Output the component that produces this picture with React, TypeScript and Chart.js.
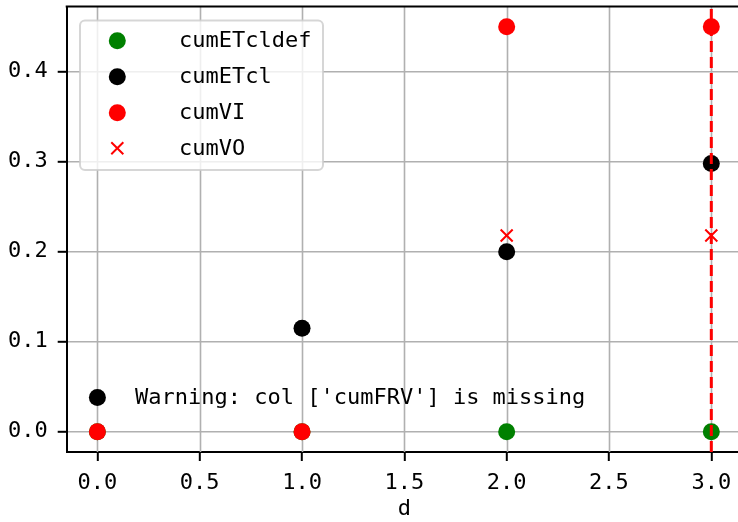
import { useEffect, useRef } from 'react';
import { Chart, registerables } from 'chart.js';

Chart.register(...registerables);

// ---- data ----
const days = [0, 1, 2, 3];
const cumETcldef = [0, 0, 0, 0];
const cumETcl = [0.038, 0.115, 0.2, 0.298];
const cumVI = [0, 0, 0.45, 0.45];
const cumVO = [0, 0, 0.218, 0.218];
const vlineX = [3];
const xTicks = [0, 0.5, 1, 1.5, 2, 2.5, 3];
const yTicks = [0, 0.1, 0.2, 0.3, 0.4];
const warningText = "Warning: col ['cumFRV'] is missing";
const xLabel = 'd';

const X_MIN = -0.15;
const X_MAX = 3.15;
const Y_MIN = -0.0225;
const Y_MAX = 0.4725;

const FONT = "'DejaVu Sans Mono', monospace";
const CANVAS_W = 742; // figure is cropped at 738; right spine falls just outside
const CANVAS_H = 522;
const GRID = '#b0b0b0';

const toPts = (ys: number[]) => days.map((d, i) => ({ x: d, y: ys[i] }));

const decorPlugin = {
  id: 'decor',
  beforeDatasetsDraw(chart: any) {
    const { ctx, chartArea, scales } = chart;
    ctx.save();
    ctx.strokeStyle = GRID;
    ctx.lineWidth = 1.6;
    xTicks.forEach((v) => {
      const px = Math.round(scales.x.getPixelForValue(v)) + 0.5;
      ctx.beginPath();
      ctx.moveTo(px, chartArea.top);
      ctx.lineTo(px, chartArea.bottom);
      ctx.stroke();
    });
    ctx.restore();
  },
  afterDatasetsDraw(chart: any) {
    const { ctx, chartArea } = chart;
    ctx.save();
    // top spine
    ctx.strokeStyle = '#000';
    ctx.lineWidth = 2;
    ctx.beginPath();
    ctx.moveTo(chartArea.left - 1, chartArea.top);
    ctx.lineTo(chartArea.right, chartArea.top);
    ctx.stroke();

    // warning text
    ctx.font = `22px ${FONT}`;
    ctx.fillStyle = '#000';
    ctx.textBaseline = 'middle';
    ctx.textAlign = 'left';
    ctx.fillText(warningText, 135, 398);

    // legend frame
    ctx.beginPath();
    ctx.roundRect(80, 20.5, 243, 149.5, 5);
    ctx.fillStyle = 'rgba(255,255,255,0.8)';
    ctx.fill();
    ctx.strokeStyle = 'rgba(204,204,204,0.8)';
    ctx.lineWidth = 2;
    ctx.stroke();

    const items = chart.data.datasets.filter((d: any) => d.label);
    const rowYs = [40.7, 76.7, 112.7, 148.3];
    items.forEach((d: any, i: number) => {
      const y = rowYs[i];
      const x = 117.3;
      const r = d.pointRadius;
      if (d.pointStyle === 'crossRot') {
        ctx.strokeStyle = d.borderColor;
        ctx.lineWidth = d.borderWidth;
        ctx.beginPath();
        const k = r * 0.7071;
        ctx.moveTo(x - k, y - k);
        ctx.lineTo(x + k, y + k);
        ctx.moveTo(x + k, y - k);
        ctx.lineTo(x - k, y + k);
        ctx.stroke();
      } else {
        ctx.fillStyle = d.backgroundColor;
        ctx.beginPath();
        ctx.arc(x, y, r, 0, Math.PI * 2);
        ctx.fill();
      }
      ctx.fillStyle = '#000';
      ctx.font = `22px ${FONT}`;
      ctx.textBaseline = 'middle';
      ctx.fillText(d.label, 179, y + 1);
    });
    ctx.restore();
  },
};

export default function App() {
  const ref = useRef<HTMLCanvasElement | null>(null);
  useEffect(() => {
    document.body.style.margin = '0';
    if (!ref.current) return;
    const chart = new Chart(ref.current, {
      type: 'scatter',
      data: {
        datasets: [
          { label: 'cumETcldef', data: toPts(cumETcldef), backgroundColor: '#008000', borderColor: '#008000', pointRadius: 8.5, pointHoverRadius: 8.5, borderWidth: 0, pointStyle: 'circle', order: 5 },
          { label: 'cumETcl', data: toPts(cumETcl), backgroundColor: '#000000', borderColor: '#000000', pointRadius: 8.5, pointHoverRadius: 8.5, borderWidth: 0, pointStyle: 'circle', order: 4 },
          { label: 'cumVI', data: toPts(cumVI), backgroundColor: '#ff0000', borderColor: '#ff0000', pointRadius: 8.5, pointHoverRadius: 8.5, borderWidth: 0, pointStyle: 'circle', order: 3 },
          { label: 'cumVO', data: toPts(cumVO), backgroundColor: '#ff0000', borderColor: '#ff0000', pointRadius: 8.5, pointHoverRadius: 8.5, borderWidth: 2, pointStyle: 'crossRot', order: 2 },
          {
            label: '',
            type: 'line',
            data: [
              { x: vlineX[0], y: Y_MIN },
              { x: vlineX[0], y: Y_MAX },
            ],
            borderColor: '#ff0000',
            borderWidth: 3,
            borderDash: [11, 5],
            pointRadius: 0,
            showLine: true,
            fill: false,
            order: 1,
          } as any,
        ],
      },
      options: {
        animation: false,
        responsive: false,
        events: [],
        layout: { autoPadding: false, padding: { top: 6.5, left: 0, right: 0, bottom: 0 } },
        plugins: { legend: { display: false }, tooltip: { enabled: false } },
        scales: {
          x: {
            type: 'linear',
            min: X_MIN,
            max: X_MAX,
            afterBuildTicks: (s: any) => {
              s.ticks = xTicks.map((v) => ({ value: v }));
            },
            afterFit: (s: any) => {
              s.height = 70;
              s.paddingLeft = 0;
              s.paddingRight = 0;
            },
            ticks: {
              includeBounds: false,
              callback: (v: any) => Number(v).toFixed(1),
              font: { family: FONT, size: 22 },
              color: '#000',
              padding: 9,
              maxRotation: 0,
              autoSkip: false,
            },
            grid: {
              drawOnChartArea: false,
              color: GRID,
              lineWidth: 1.6,
              tickLength: 9,
              tickColor: '#000',
              tickWidth: 2,
            },
            border: { display: true, color: '#000', width: 2 },
            title: {
              display: true,
              text: xLabel,
              font: { family: FONT, size: 22 },
              color: '#000',
              padding: { top: 0, bottom: 0 },
            },
          },
          y: {
            type: 'linear',
            min: Y_MIN,
            max: Y_MAX,
            afterBuildTicks: (s: any) => {
              s.ticks = yTicks.map((v) => ({ value: v }));
            },
            afterFit: (s: any) => {
              s.width = 66.7;
              s.paddingTop = 0;
              s.paddingBottom = 0;
            },
            ticks: {
              includeBounds: false,
              callback: (v: any) => Number(v).toFixed(1),
              font: { family: FONT, size: 22 },
              color: '#000',
              padding: 10,
              autoSkip: false,
            },
            grid: {
              color: GRID,
              lineWidth: 1.6,
              tickLength: 9,
              tickColor: '#000',
              tickWidth: 2,
            },
            border: { display: true, color: '#000', width: 2 },
          },
        },
      },
      plugins: [decorPlugin],
    });
    return () => chart.destroy();
  }, []);
  return (
    <div style={{ width: 738, height: CANVAS_H, overflow: 'hidden' }}>
      <canvas
        ref={ref}
        width={CANVAS_W}
        height={CANVAS_H}
        style={{ display: 'block', width: CANVAS_W, height: CANVAS_H }}
      />
    </div>
  );
}
